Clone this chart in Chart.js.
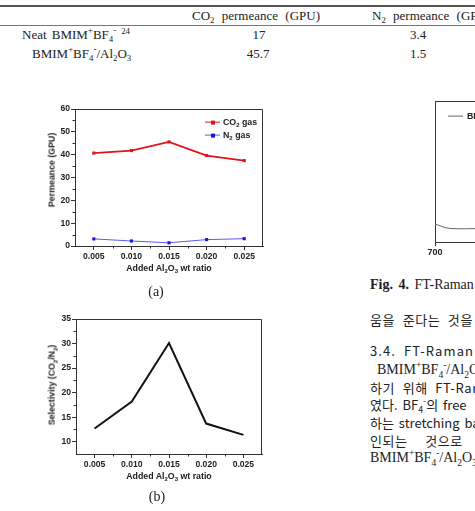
<!DOCTYPE html>
<html>
<head>
<meta charset="utf-8">
<script src="https://cdn.jsdelivr.net/npm/chart.js@4.4.1/dist/chart.umd.min.js"></script>
<style>
  html, body { margin: 0; padding: 0; background: #fff; }
  #page { position: relative; width: 475px; height: 511px; overflow: hidden; background: #fff; color: #222; }
  .abs { position: absolute; white-space: nowrap; }
  .serif { font-family: "Liberation Serif", "DejaVu Serif", serif; font-size: 13px; line-height: 1; }
  .serif14 { font-family: "Liberation Serif", "DejaVu Serif", serif; font-size: 14px; line-height: 1; }
  .sans { font-family: "Liberation Sans", Arial, sans-serif; font-weight: bold; font-size: 8.8px; line-height: 1; color: #222; }
  .kr { font-family: "Noto Sans CJK KR", "Liberation Serif", serif; font-size: 13px; line-height: 1; letter-spacing: 0.6px; word-spacing: 4px; }
  .c { transform: translate(-50%, -50%); }
  .l { transform: translateY(-50%); }
  .rot { transform: translate(-50%, -50%) rotate(-90deg); }
  sub, sup { font-size: 68%; line-height: 0; }
  canvas { position: absolute; }
  .hline { position: absolute; left: 0; width: 475px; background: #555; }
  .lg { display: inline-block; position: relative; width: 15px; height: 8px; vertical-align: middle; margin-right: 3px; }
  .lg i { position: absolute; left: 0; right: 0; top: 3px; }
  .lg b { position: absolute; left: 6px; top: 2px; width: 4px; height: 4px; }
</style>
</head>
<body>
<div id="page">
  <!-- table fragment -->
  <div class="hline" style="top:5px;height:2px;"></div>
  <div class="hline" style="top:25px;height:1px;background:#777;"></div>
  <div class="abs serif c" style="left:256px;top:15px;word-spacing:4px;">CO<sub>2</sub> permeance (GPU)</div>
  <div class="abs serif l" style="left:372px;top:15px;word-spacing:4px;">N<sub>2</sub> permeance (GPU)</div>
  <div class="abs serif l" style="left:22px;top:34px;word-spacing:2px;">Neat BMIM<sup>+</sup>BF<sub>4</sub><sup>-</sup><sup style="margin-left:5px;">24</sup></div>
  <div class="abs serif c" style="left:259px;top:34px;">17</div>
  <div class="abs serif c" style="left:418px;top:34px;">3.4</div>
  <div class="abs serif l" style="left:32px;top:53px;">BMIM<sup>+</sup>BF<sub>4</sub><sup>-</sup>/Al<sub>2</sub>O<sub>3</sub></div>
  <div class="abs serif c" style="left:258px;top:53px;">45.7</div>
  <div class="abs serif c" style="left:418px;top:53px;">1.5</div>

  <!-- figure (a) -->
  <canvas id="permChart" width="240" height="175" style="left:30px;top:100px;"></canvas>
  <div class="abs sans rot" style="left:52px;top:170px;">Permeance (GPU)</div>
  <div class="abs sans c" style="left:169px;top:268px;">Added Al<sub>2</sub>O<sub>3</sub> wt ratio</div>
  <div class="abs serif14 c" style="left:156px;top:292px;">(a)</div>
  <div class="abs sans l" style="left:205px;top:122px;"><span class="lg"><i style="height:1.6px;background:#e3121b;"></i><b style="background:#e3121b;"></b></span>CO<sub>2</sub> gas</div>
  <div class="abs sans l" style="left:205px;top:135px;"><span class="lg"><i style="height:1px;background:#5a5af0;"></i><b style="background:#1616d8;"></b></span>N<sub>2</sub> gas</div>

  <!-- figure (b) -->
  <canvas id="selChart" width="240" height="175" style="left:30px;top:310px;"></canvas>
  <div class="abs sans rot" style="left:52px;top:385px;">Selectivity (CO<sub>2</sub>/N<sub>2</sub>)</div>
  <div class="abs sans c" style="left:169px;top:476px;">Added Al<sub>2</sub>O<sub>3</sub> wt ratio</div>
  <div class="abs serif14 c" style="left:157px;top:497px;">(b)</div>

  <!-- right column: Raman figure fragment and body text -->
  <canvas id="ramanChart" width="230" height="170" style="left:405px;top:95px;"></canvas>
  <div class="abs sans l" style="left:448px;top:116px;"><span class="lg" style="width:15px;margin-right:4px;"><i style="height:1px;background:#666;"></i></span>BMIM<sup>+</sup>BF<sub>4</sub><sup>-</sup></div>
  <div class="abs serif14 l" style="left:370px;top:285px;word-spacing:2px;"><b>Fig. 4.</b> FT-Raman spectra</div>
  <div class="abs kr l" style="left:370px;top:319px;">움을 준다는 것을</div>
  <div class="abs kr l" style="left:370px;top:350px;letter-spacing:1.1px;">3.4. FT-Raman</div>
  <div class="abs serif14 l" style="left:377px;top:370px;">BMIM<sup>+</sup>BF<sub>4</sub><sup>-</sup>/Al<sub>2</sub>O<sub>3</sub></div>
  <div class="abs kr l" style="left:370px;top:387px;">하기 위해 FT-Raman</div>
  <div class="abs kr l" style="left:370px;top:404px;letter-spacing:0;word-spacing:2px;">였다. BF<sub>4</sub><sup>-</sup>의 free</div>
  <div class="abs kr l" style="left:370px;top:422px;letter-spacing:0;word-spacing:2px;">하는 stretching band</div>
  <div class="abs kr l" style="left:370px;top:440px;word-spacing:14px;">인되는 것으로</div>
  <div class="abs serif14 l" style="left:370px;top:458px;">BMIM<sup>+</sup>BF<sub>4</sub><sup>-</sup>/Al<sub>2</sub>O<sub>3</sub></div>
</div>

<script>
// ---- data ----
const ratios = [0.005, 0.010, 0.015, 0.020, 0.025];
const co2Perm = [40.7, 41.8, 45.6, 39.6, 37.4];
const n2Perm = [3.1, 2.2, 1.4, 2.8, 3.2];
const selectivity = [12.7, 18.2, 30.1, 13.7, 11.4];

const xTicks = [0.005, 0.010, 0.015, 0.020, 0.025];
const xMinor = [0.0075, 0.0125, 0.0175, 0.0225];
const permTicks = [0, 10, 20, 30, 40, 50, 60];
const permMinor = [5, 15, 25, 35, 45, 55];
const selTicks = [10, 15, 20, 25, 30, 35];
const selMinor = [12.5, 17.5, 22.5, 27.5, 32.5];

// visible edge of the Raman spectrum (cm-1, a.u.)
const ramanShift = [700, 704, 710, 716, 724, 735, 750, 770];
const ramanIntensity = [0.125, 0.122, 0.112, 0.102, 0.096, 0.094, 0.094, 0.095];

const AXIS = '#333';
const tickFont = { family: 'Liberation Sans', weight: 'bold', size: 8.6 };

// box frame + minor ticks (Origin style)
const framePlugin = {
    id: 'frame',
    afterDraw(chart, args, opts) {
        const { ctx, chartArea: a, scales } = chart;
        ctx.save();
        ctx.strokeStyle = AXIS;
        ctx.lineWidth = 1;
        ctx.beginPath();
        ctx.moveTo(a.left, a.top + 0.5);
        ctx.lineTo(a.right - 0.5, a.top + 0.5);
        ctx.lineTo(a.right - 0.5, a.bottom);
        ctx.stroke();
        ctx.beginPath();
        (opts.xMinor || []).forEach(v => {
            const px = Math.round(scales.x.getPixelForValue(v)) + 0.5;
            ctx.moveTo(px, a.bottom);
            ctx.lineTo(px, a.bottom + 2.5);
        });
        (opts.yMinor || []).forEach(v => {
            const py = Math.round(scales.y.getPixelForValue(v)) + 0.5;
            ctx.moveTo(a.left, py);
            ctx.lineTo(a.left - 2.5, py);
        });
        ctx.stroke();
        ctx.restore();
    }
};

function axisOpts(min, max, ticks, size, fmt, isX) {
    return {
        type: 'linear',
        min: min,
        max: max,
        afterBuildTicks: s => { s.ticks = ticks.map(v => ({ value: v })); },
        afterFit: s => { if (isX) s.height = size; else s.width = size; },
        grid: { drawOnChartArea: false, drawTicks: true, tickLength: 4, color: AXIS },
        border: { color: AXIS, width: 1 },
        ticks: { font: tickFont, color: '#222', padding: 1, maxRotation: 0, autoSkip: false, callback: fmt }
    };
}

function pts(xs, ys) {
    return xs.map((x, i) => ({ x: x, y: ys[i] }));
}

// === (a) permeance ===
new Chart(document.getElementById('permChart'), {
    type: 'line',
    data: {
        datasets: [
            {
                data: pts(ratios, co2Perm),
                borderColor: '#e3121b', backgroundColor: '#e3121b',
                borderWidth: 1.8, pointStyle: 'rect', pointRadius: 2.2, pointBorderWidth: 0
            },
            {
                data: pts(ratios, n2Perm),
                borderColor: '#5a5af0', backgroundColor: '#1616d8',
                borderWidth: 1, pointStyle: 'rect', pointRadius: 2.2, pointBorderWidth: 0
            }
        ]
    },
    options: {
        responsive: false, animation: false,
        layout: { padding: { top: 9, right: 7, left: 0, bottom: 0 } },
        plugins: { legend: { display: false }, tooltip: { enabled: false }, frame: { xMinor: xMinor, yMinor: permMinor } },
        scales: {
            x: axisOpts(0.0025, 0.0275, xTicks, 29, v => v.toFixed(3), true),
            y: axisOpts(0, 60, permTicks, 45, v => String(v), false)
        }
    },
    plugins: [framePlugin]
});

// === (b) selectivity ===
new Chart(document.getElementById('selChart'), {
    type: 'line',
    data: {
        datasets: [{
            data: pts(ratios, selectivity),
            borderColor: '#111', borderWidth: 2, pointRadius: 0
        }]
    },
    options: {
        responsive: false, animation: false,
        layout: { padding: { top: 9, right: 8, left: 0, bottom: 0 } },
        plugins: { legend: { display: false }, tooltip: { enabled: false }, frame: { xMinor: xMinor, yMinor: selMinor } },
        scales: {
            x: axisOpts(0.0025, 0.0275, xTicks, 31, v => v.toFixed(3), true),
            y: axisOpts(7.5, 35, selTicks, 46, v => String(v), false)
        }
    },
    plugins: [framePlugin]
});

// === Raman fragment (only its left edge is on the page) ===
const ramanX = axisOpts(700, 1000, [700, 800, 900, 1000], 23, v => String(v), true);
ramanX.ticks.font = { family: 'Liberation Sans', weight: 'bold', size: 9 };
const ramanY = axisOpts(0, 1, [], 30, v => '', false);
ramanY.ticks.display = false;
ramanY.grid.display = false;

new Chart(document.getElementById('ramanChart'), {
    type: 'line',
    data: {
        datasets: [{
            data: pts(ramanShift, ramanIntensity),
            borderColor: '#666', borderWidth: 1, pointRadius: 0
        }]
    },
    options: {
        responsive: false, animation: false,
        layout: { padding: { top: 6, right: 5, left: 0, bottom: 0 } },
        plugins: { legend: { display: false }, tooltip: { enabled: false }, frame: {} },
        scales: { x: ramanX, y: ramanY }
    },
    plugins: [framePlugin]
});
</script>
</body>
</html>
